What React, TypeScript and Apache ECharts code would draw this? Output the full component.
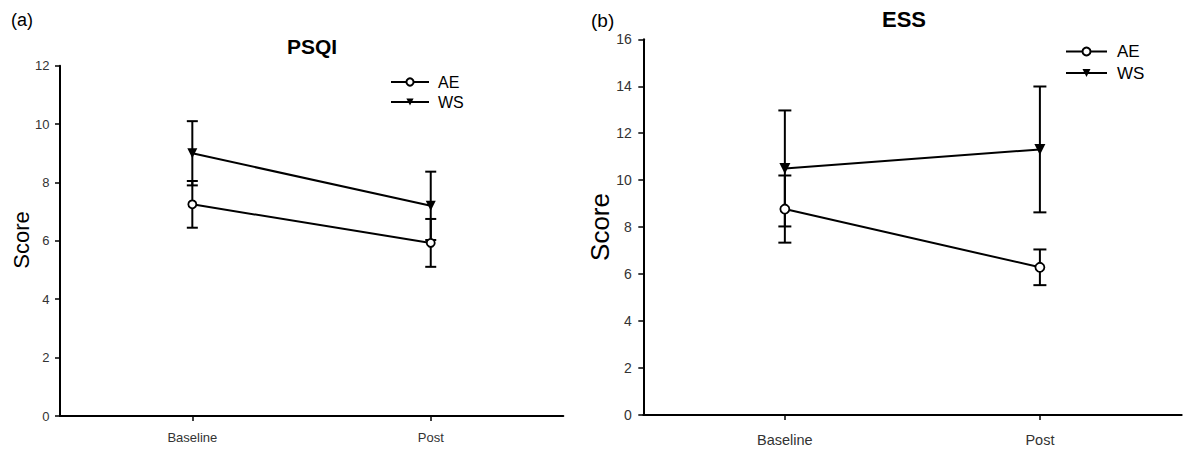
import React, { useEffect, useRef } from "react";
import * as echarts from "echarts";

const categories = ["Baseline", "Post"];
const seriesNames = ["AE", "WS"];

// PSQI panel (a)
const psqiAE = [7.25, 5.93];
const psqiAEErr = [0.8, 0.82];
const psqiWS = [9.0, 7.2];
const psqiWSErr = [1.1, 1.17];

// ESS panel (b)
const essAE = [8.77, 6.29];
const essAEErr = [1.43, 0.76];
const essWS = [10.5, 11.31];
const essWSErr = [2.47, 2.68];

const FONT = "Liberation Sans, Arial, Helvetica, sans-serif";

function pts(vals: number[]) {
  return vals.map((v, i) => [i, v]);
}
function errs(vals: number[], e: number[]) {
  return vals.map((v, i) => [i, v - e[i], v + e[i]]);
}

function errSeries(gridIdx: number, data: number[][], capW: number) {
  return {
    type: "custom",
    xAxisIndex: gridIdx,
    yAxisIndex: gridIdx,
    z: 1,
    silent: true,
    encode: { x: 0, y: [1, 2] },
    data,
    renderItem: (params: any, api: any) => {
      const x = api.value(0);
      const lo = api.value(1);
      const hi = api.value(2);
      const t = api.coord([x, hi]);
      const b = api.coord([x, lo]);
      const st = { stroke: "#000", lineWidth: 2 };
      return {
        type: "group",
        children: [
          { type: "line", shape: { x1: t[0], y1: t[1], x2: b[0], y2: b[1] }, style: st },
          { type: "line", shape: { x1: t[0] - capW, y1: t[1], x2: t[0] + capW, y2: t[1] }, style: st },
          { type: "line", shape: { x1: b[0] - capW, y1: b[1], x2: b[0] + capW, y2: b[1] }, style: st },
        ],
      };
    },
  };
}

function lineSeries(gridIdx: number, name: string, data: number[][], isCircle: boolean, size: number) {
  return {
    type: "line",
    name,
    xAxisIndex: gridIdx,
    yAxisIndex: gridIdx,
    z: 3,
    data,
    symbol: isCircle ? "circle" : "triangle",
    symbolRotate: isCircle ? 0 : 180,
    symbolSize: size,
    lineStyle: { color: "#000", width: 2 },
    itemStyle: isCircle
      ? { color: "#fff", borderColor: "#000", borderWidth: 1.8 }
      : { color: "#000", borderColor: "#000", borderWidth: 0 },
  };
}

function xAxisCfg(gridIdx: number, fontSize: number, margin: number) {
  return {
    type: "value",
    gridIndex: gridIdx,
    min: -0.555,
    max: 1.556,
    splitLine: { show: false },
    axisLine: { show: true, onZero: false, lineStyle: { color: "#000", width: 2 } },
    axisTick: { show: true, customValues: [0, 1], length: 5, lineStyle: { color: "#000", width: 1.5 } },
    axisLabel: {
      show: true,
      customValues: [0, 1],
      formatter: (v: number) => categories[Math.round(v)] ?? "",
      fontFamily: FONT,
      fontSize,
      color: "#333",
      margin,
    },
  };
}

function yAxisCfg(gridIdx: number, max: number, fontSize: number, margin: number) {
  return {
    type: "value",
    gridIndex: gridIdx,
    min: 0,
    max,
    interval: 2,
    splitLine: { show: false },
    axisLine: { show: true, onZero: false, lineStyle: { color: "#000", width: 2 } },
    axisTick: { show: true, length: 5, lineStyle: { color: "#000", width: 1.5 } },
    axisLabel: { fontFamily: FONT, fontSize, color: "#333", margin },
  };
}

export default function App() {
  const ref = useRef<HTMLDivElement>(null);
  useEffect(() => {
    if (!ref.current) return;
    const chart = echarts.init(ref.current, undefined, { renderer: "svg" });
    chart.setOption({
      animation: false,
      backgroundColor: "#fff",
      grid: [
        { left: 60, top: 65.7, width: 503.3, height: 350.3 },
        { left: 643.3, top: 39.3, width: 538.4, height: 375.7 },
      ],
      xAxis: [xAxisCfg(0, 13, 15), xAxisCfg(1, 14.5, 17)],
      yAxis: [yAxisCfg(0, 12, 13, 10.5), yAxisCfg(1, 16, 14, 11.5)],
      legend: [
        {
          data: seriesNames,
          orient: "vertical",
          left: 390,
          top: 74,
          padding: 0,
          itemWidth: 38,
          itemHeight: 9,
          itemGap: 4,
          selectedMode: false,
          textStyle: { fontFamily: FONT, fontSize: 16, lineHeight: 16, color: "#000", padding: [0, 0, 0, 4] },
        },
        {
          data: seriesNames,
          orient: "vertical",
          left: 1065,
          top: 43,
          padding: 0,
          itemWidth: 41,
          itemHeight: 10,
          itemGap: 4.6,
          selectedMode: false,
          textStyle: { fontFamily: FONT, fontSize: 17, lineHeight: 17, color: "#000", padding: [0, 0, 0, 5] },
        },
      ],
      graphic: [
        { type: "text", x: 11, y: 20, style: { text: "(a)", font: `18px ${FONT}`, fill: "#000", align: "left", verticalAlign: "middle" } },
        { type: "text", x: 591, y: 20, style: { text: "(b)", font: `19px ${FONT}`, fill: "#000", align: "left", verticalAlign: "middle" } },
        { type: "text", x: 312, y: 46, style: { text: "PSQI", font: `bold 21px ${FONT}`, fill: "#000", align: "center", verticalAlign: "middle" } },
        { type: "text", x: 904, y: 19, style: { text: "ESS", font: `bold 22px ${FONT}`, fill: "#000", align: "center", verticalAlign: "middle" } },
        { type: "text", x: 21, y: 240, rotation: Math.PI / 2, style: { text: "Score", font: `22px ${FONT}`, fill: "#000", align: "center", verticalAlign: "middle" } },
        { type: "text", x: 600, y: 227, rotation: Math.PI / 2, style: { text: "Score", font: `26px ${FONT}`, fill: "#000", align: "center", verticalAlign: "middle" } },
      ],
      series: [
        errSeries(0, errs(psqiAE, psqiAEErr), 5.5),
        errSeries(0, errs(psqiWS, psqiWSErr), 5.5),
        lineSeries(0, "AE", pts(psqiAE), true, 8),
        lineSeries(0, "WS", pts(psqiWS), false, 10),
        errSeries(1, errs(essAE, essAEErr), 6.5),
        errSeries(1, errs(essWS, essWSErr), 6.5),
        lineSeries(1, "AE", pts(essAE), true, 9),
        lineSeries(1, "WS", pts(essWS), false, 11),
      ],
    });
    return () => chart.dispose();
  }, []);
  return (
    <div
      ref={ref}
      style={{ position: "absolute", left: 0, top: 0, width: 1186, height: 449 }}
    />
  );
}
